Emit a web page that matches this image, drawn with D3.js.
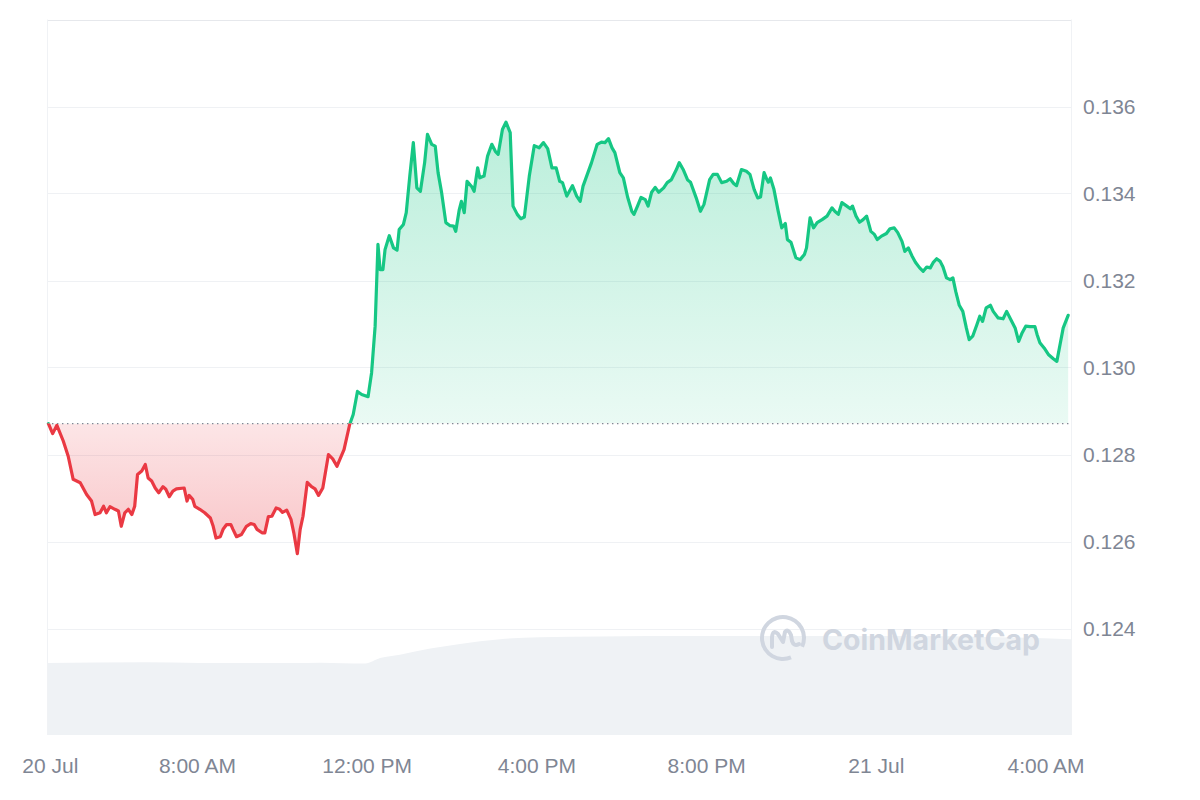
<!DOCTYPE html>
<html>
<head>
<meta charset="utf-8">
<script src="https://cdn.jsdelivr.net/npm/d3@7"></script>
<style>
  html, body { margin: 0; padding: 0; background: #ffffff; }
  svg { display: block; }
</style>
</head>
<body>
<svg id="chart" width="1200" height="800"></svg>
<script>
// ---------------- DATA ----------------
const startTime = "2023-07-20T04:28";
const spanMinutes = 1448;

// minutes after startTime
const priceOffsets = [
  2, 8, 14, 23, 30, 37, 47, 56, 63, 68, 75, 80, 84, 89, 96, 101, 105, 110, 115, 120,
  124, 128, 134, 139, 143, 148, 153, 158, 164, 168, 173, 178, 183, 194, 198, 201, 206, 209, 216, 223,
  231, 235, 239, 245, 249, 254, 260, 263, 268, 275, 282, 288, 293, 297, 304, 308, 313, 318, 324, 329,
  333, 339, 345, 349, 354, 358, 362, 368, 374, 379, 384, 390, 398, 404, 410, 414, 420, 428,
  433, 439, 445, 454, 459, 464, 468, 471, 475, 478, 484, 490, 495, 498, 504, 508, 513, 518, 523, 528,
  534, 538, 544, 549, 553, 558, 564, 570, 575, 578, 583, 586, 590, 594, 601, 604, 609, 612, 618, 623,
  629, 634, 638, 644, 649, 655, 659, 665, 670, 675, 682, 689, 696, 702, 708, 714, 720, 725, 729, 735,
  743, 749, 754, 758, 770, 778, 784, 789, 794, 799, 803, 810, 815, 821, 827, 830, 835, 840, 846, 850,
  855, 860, 865, 872, 877, 883, 890, 894, 900, 906, 910, 918, 924, 929, 937, 942, 948, 954, 961, 966,
  971, 975, 982, 989, 994, 1000, 1005, 1009, 1014, 1018, 1020, 1023, 1028, 1034, 1039, 1044, 1047, 1052, 1059, 1065,
  1071, 1074, 1079, 1084, 1089, 1096, 1103, 1110, 1114, 1119, 1124, 1131, 1136, 1139, 1144, 1149, 1154, 1159, 1165, 1170,
  1174, 1180, 1187, 1192, 1198, 1203, 1209, 1213, 1218, 1223, 1228, 1234, 1239, 1244, 1249, 1253, 1258, 1263, 1267, 1272,
  1277, 1281, 1285, 1290, 1295, 1300, 1304, 1309, 1315, 1319, 1323, 1328, 1334, 1338, 1345, 1352, 1357, 1363, 1369, 1374,
  1379, 1384, 1390, 1397, 1400, 1404, 1410, 1416, 1423, 1428, 1433, 1437, 1444
];

const prices = [
  0.12871, 0.12848, 0.12867, 0.12831, 0.12796, 0.12743, 0.12735, 0.12708, 0.12693, 0.12662,
  0.12666, 0.12681, 0.12666, 0.12680, 0.12674, 0.12670, 0.12635, 0.12666, 0.12674, 0.12662,
  0.12681, 0.12754, 0.12762, 0.12777, 0.12746, 0.12739, 0.12723, 0.12712, 0.12726, 0.12720,
  0.12703, 0.12716, 0.12721, 0.12723, 0.12693, 0.12706, 0.12697, 0.12681, 0.12674, 0.12666,
  0.12654, 0.12635, 0.12608, 0.12611, 0.12628, 0.12639, 0.12639, 0.12628, 0.12611, 0.12616,
  0.12635, 0.12641, 0.12639, 0.12628, 0.12620, 0.12620, 0.12657, 0.12658, 0.12677, 0.12674,
  0.12667, 0.12672, 0.12651, 0.12620, 0.12572, 0.12628, 0.12658, 0.12736, 0.12726, 0.12721,
  0.12706, 0.12723, 0.12800, 0.12790, 0.12773, 0.12788, 0.12811, 0.12869,
  0.12892, 0.12945, 0.12938, 0.12933, 0.12988, 0.13095, 0.13283, 0.13225, 0.13225, 0.13271,
  0.13303, 0.13275, 0.13270, 0.13317, 0.13329, 0.13356, 0.13440, 0.13517, 0.13413, 0.13405,
  0.13471, 0.13536, 0.13513, 0.13509, 0.13448, 0.13402, 0.13333, 0.13326, 0.13325, 0.13313,
  0.13363, 0.13382, 0.13356, 0.13428, 0.13415, 0.13405, 0.13459, 0.13436, 0.13440, 0.13486,
  0.13513, 0.13497, 0.13490, 0.13547, 0.13564, 0.13540, 0.13371, 0.13352, 0.13342, 0.13346,
  0.13440, 0.13510, 0.13505, 0.13517, 0.13503, 0.13459, 0.13459, 0.13428, 0.13425, 0.13394,
  0.13418, 0.13394, 0.13382, 0.13417, 0.13471, 0.13513, 0.13518, 0.13517, 0.13526, 0.13505,
  0.13494, 0.13448, 0.13436, 0.13392, 0.13359, 0.13352, 0.13371, 0.13391, 0.13386, 0.13371,
  0.13403, 0.13414, 0.13403, 0.13413, 0.13425, 0.13432, 0.13455, 0.13471, 0.13454, 0.13431,
  0.13426, 0.13390, 0.13359, 0.13375, 0.13432, 0.13444, 0.13444, 0.13425, 0.13428, 0.13434,
  0.13423, 0.13418, 0.13455, 0.13451, 0.13444, 0.13409, 0.13390, 0.13392, 0.13448, 0.13432,
  0.13426, 0.13436, 0.13409, 0.13359, 0.13321, 0.13331, 0.13294, 0.13288, 0.13252, 0.13248,
  0.13260, 0.13275, 0.13344, 0.13321, 0.13333, 0.13340, 0.13348, 0.13367, 0.13359, 0.13352,
  0.13379, 0.13371, 0.13365, 0.13371, 0.13348, 0.13334, 0.13340, 0.13348, 0.13313, 0.13306,
  0.13294, 0.13302, 0.13308, 0.13319, 0.13321, 0.13310, 0.13290, 0.13267, 0.13275, 0.13257,
  0.13242, 0.13229, 0.13221, 0.13231, 0.13229, 0.13241, 0.13250, 0.13244, 0.13231, 0.13206,
  0.13202, 0.13206, 0.13175, 0.13143, 0.13129, 0.13091, 0.13064, 0.13072, 0.13099, 0.13118,
  0.13106, 0.13137, 0.13143, 0.13129, 0.13114, 0.13112, 0.13129, 0.13110, 0.13091, 0.13060,
  0.13080, 0.13095, 0.13094, 0.13094, 0.13076, 0.13057, 0.13045, 0.13030, 0.13020, 0.13014,
  0.13057, 0.13091, 0.13120
];

// volume (relative units), minutes after startTime
const volumeOffsets = [0, 139, 216, 344, 387, 450, 471, 499, 542, 584, 641, 697, 782, 923, 1008, 1206, 1348, 1448];
const volumeValues  = [53.3, 53.8, 53.3, 53.3, 53.6, 53.0, 57.0, 59.5, 64.0, 67.5, 71.0, 72.5, 73.0, 73.3, 73.3, 73.3, 72.5, 71.0];

const yTickValues = [0.124, 0.126, 0.128, 0.130, 0.132, 0.134, 0.136];
const yGridValues = [0.124, 0.126, 0.128, 0.130, 0.132, 0.134, 0.136, 0.138];
const xTickTimes  = ["2023-07-20T04:32", "2023-07-20T08:00", "2023-07-20T12:00", "2023-07-20T16:00",
                     "2023-07-20T20:00", "2023-07-21T00:00", "2023-07-21T04:00"];
const xTickLabels = ["20 Jul", "8:00 AM", "12:00 PM", "4:00 PM", "8:00 PM", "21 Jul", "4:00 AM"];

// ---------------- CHART ----------------
(function () {
const parse = d3.timeParse("%Y-%m-%dT%H:%M");
const t0 = parse(startTime);
const priceData = priceOffsets.map((m, i) => ({ t: d3.timeMinute.offset(t0, m), v: prices[i] }));
const volumeData = volumeOffsets.map((m, i) => ({ t: d3.timeMinute.offset(t0, m), v: volumeValues[i] }));
const baseline = prices[0];

const pL = 47, pR = 1071, pT = 19.5, pB = 735;
const svg = d3.select("#chart");
const font = "'Liberation Sans', Arial, Helvetica, sans-serif";

const x = d3.scaleTime().domain([t0, d3.timeMinute.offset(t0, spanMinutes)]).range([pL, pR]);
const y = d3.scaleLinear().domain([0.124, 0.138]).range([628.5, 19.5]);
const vy = d3.scaleLinear().domain([0, 100]).range([pB, 600]);

const defs = svg.append("defs");
const by = y(baseline);

const gUp = defs.append("linearGradient").attr("id", "gUp").attr("gradientUnits", "userSpaceOnUse")
  .attr("x1", 0).attr("x2", 0).attr("y1", y(0.1357)).attr("y2", by);
gUp.append("stop").attr("offset", 0).attr("stop-color", "#16c784").attr("stop-opacity", 0.3);
gUp.append("stop").attr("offset", 1).attr("stop-color", "#16c784").attr("stop-opacity", 0.09);

const gDn = defs.append("linearGradient").attr("id", "gDn").attr("gradientUnits", "userSpaceOnUse")
  .attr("x1", 0).attr("x2", 0).attr("y1", by).attr("y2", y(0.1257));
gDn.append("stop").attr("offset", 0).attr("stop-color", "#ea3943").attr("stop-opacity", 0.13);
gDn.append("stop").attr("offset", 1).attr("stop-color", "#ea3943").attr("stop-opacity", 0.3);

defs.append("clipPath").attr("id", "clipUp").append("rect")
  .attr("x", pL - 5).attr("y", 0).attr("width", pR - pL + 10).attr("height", by);
defs.append("clipPath").attr("id", "clipDn").append("rect")
  .attr("x", pL - 5).attr("y", by).attr("width", pR - pL + 10).attr("height", 800 - by);

// volume area
svg.append("path")
  .datum(volumeData)
  .attr("fill", "#eff2f5")
  .attr("d", d3.area().x(d => x(d.t)).y0(pB).y1(d => vy(d.v)).curve(d3.curveMonotoneX));

// grid
svg.append("g").selectAll("line").data(yGridValues).join("line")
  .attr("x1", pL).attr("x2", pR)
  .attr("y1", d => Math.round(y(d)) + 0.5).attr("y2", d => Math.round(y(d)) + 0.5)
  .attr("stroke", d => d === 0.138 ? "#e6e8ec" : "#eff1f4").attr("stroke-width", 1.2);
svg.append("line").attr("x1", pL + 0.5).attr("x2", pL + 0.5).attr("y1", pT).attr("y2", pB)
  .attr("stroke", "#f0f2f5");
svg.append("line").attr("x1", pR + 0.5).attr("x2", pR + 0.5).attr("y1", pT).attr("y2", pB)
  .attr("stroke", "#f0f2f5");

// watermark
const wm = svg.append("g").attr("transform", "translate(783,638)");
wm.append("path")
  .attr("d", d3.arc()({ innerRadius: 19, outerRadius: 23, startAngle: 2.75, endAngle: 2.75 + 2 * Math.PI - 0.75 }))
  .attr("fill", "#d0d6e0");
wm.append("path")
  .attr("d", "M-11,9 L-11,-1 Q-10,-9 -5,-4 L0,4 L2,-6 Q5,-10 8,-3 L9,3 Q11,9 16,6")
  .attr("fill", "none").attr("stroke", "#d0d6e0").attr("stroke-width", 4)
  .attr("stroke-linejoin", "round").attr("stroke-linecap", "round");
svg.append("text").attr("x", 822).attr("y", 650)
  .attr("font-family", "Inter, 'Open Sans', sans-serif").attr("font-weight", 700).attr("font-size", 28.5)
  .attr("fill", "#d0d6e0").text("CoinMarketCap");

// areas
const area = d3.area().x(d => x(d.t)).y0(by).y1(d => y(d.v));
svg.append("path").datum(priceData).attr("clip-path", "url(#clipUp)")
  .attr("fill", "url(#gUp)").attr("d", area);
svg.append("path").datum(priceData).attr("clip-path", "url(#clipDn)")
  .attr("fill", "url(#gDn)").attr("d", area);

// baseline
svg.append("line").attr("x1", pL).attr("x2", pR).attr("y1", by).attr("y2", by)
  .attr("stroke", "#7f8694").attr("stroke-width", 1.4).attr("stroke-dasharray", "1.4 3.6");

// lines
const line = d3.line().x(d => x(d.t)).y(d => y(d.v));
svg.append("path").datum(priceData).attr("clip-path", "url(#clipUp)")
  .attr("fill", "none").attr("stroke", "#16c784").attr("stroke-width", 3.2)
  .attr("stroke-linejoin", "round").attr("stroke-linecap", "round").attr("d", line);
svg.append("path").datum(priceData).attr("clip-path", "url(#clipDn)")
  .attr("fill", "none").attr("stroke", "#ea3943").attr("stroke-width", 3.2)
  .attr("stroke-linejoin", "round").attr("stroke-linecap", "round").attr("d", line);

// y axis
const yAxis = svg.append("g").attr("transform", `translate(${pR},0)`)
  .call(d3.axisRight(y).tickValues(yTickValues).tickFormat(d3.format(".3f")).tickSize(0).tickPadding(12));
yAxis.select(".domain").remove();
yAxis.selectAll("text").attr("font-family", font).attr("font-size", 21).attr("fill", "#7f8694");

// x axis
const xAxis = svg.append("g").attr("transform", `translate(0,${pB})`)
  .call(d3.axisBottom(x).tickValues(xTickTimes.map(parse))
    .tickFormat((d, i) => xTickLabels[i]).tickSize(0).tickPadding(23));
xAxis.select(".domain").remove();
xAxis.selectAll("text").attr("font-family", font).attr("font-size", 21).attr("fill", "#7f8694");
})();
</script>
</body>
</html>
